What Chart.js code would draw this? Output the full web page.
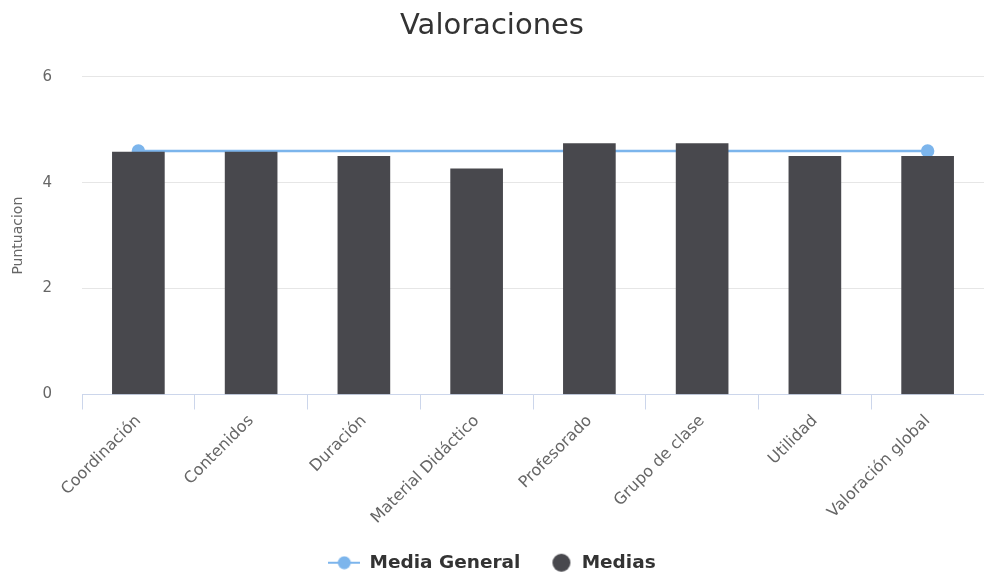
<!DOCTYPE html>
<html>
<head>
<meta charset="utf-8">
<script src="https://cdn.jsdelivr.net/npm/chart.js@4/dist/chart.umd.min.js"></script>
<style>
  body { margin: 0; background: #fff; }
  #wrap { width: 984px; height: 576px; overflow: hidden; }
</style>
</head>
<body>
<div id="wrap"><canvas id="myChart" width="984" height="576"></canvas></div>
<script>
const categories = ["Coordinación", "Contenidos", "Duración", "Material Didáctico", "Profesorado", "Grupo de clase", "Utilidad", "Valoración global"];
// the average line only has its two end points drawn (marker at first and last)
const mediaGeneral = [4.6, null, null, null, null, null, null, 4.6];
const medias = [4.58, 4.58, 4.5, 4.26, 4.74, 4.74, 4.5, 4.5];
const yTicks = [0, 2, 4, 6];

const lineBlue = "#7cb5ec";
const barGray = "#48484d";
const fontFam = "'DejaVu Sans', Verdana, sans-serif";

// legend symbols like the original (line with a dot, plain dot)
function lineIcon() {
  const c = document.createElement("canvas");
  c.width = 32; c.height = 14;
  const g = c.getContext("2d");
  g.strokeStyle = lineBlue; g.lineWidth = 2;
  g.beginPath(); g.moveTo(0, 7); g.lineTo(32, 7); g.stroke();
  g.fillStyle = lineBlue;
  g.beginPath(); g.arc(16, 7, 6.5, 0, Math.PI * 2); g.fill();
  return c;
}
function dotIcon() {
  // dot sits at the right of its box so the gap to the text is tighter
  const c = document.createElement("canvas");
  c.width = 32; c.height = 20;
  const g = c.getContext("2d");
  g.fillStyle = barGray;
  g.beginPath(); g.arc(21, 10, 9, 0, Math.PI * 2); g.fill();
  return c;
}
const icons = [lineIcon(), dotIcon()];

// no extra side padding from the axes, the plot runs to the right edge
const noPadding = () => ({ left: 0, top: 0, right: 0, bottom: 0 });

const ctx = document.getElementById("myChart").getContext("2d");
const myChart = new Chart(ctx, {
  data: {
    labels: categories,
    datasets: [
      {
        type: "line",
        label: "Media General",
        data: mediaGeneral,
        spanGaps: true,
        borderColor: lineBlue,
        backgroundColor: lineBlue,
        borderWidth: 2.5,
        pointRadius: 5.5,
        pointHoverRadius: 5.5,
        order: 2
      },
      {
        type: "bar",
        label: "Medias",
        data: medias,
        backgroundColor: barGray,
        borderWidth: 0,
        barThickness: 52,
        order: 1
      }
    ]
  },
  options: {
    responsive: false,
    animation: false,
    layout: { autoPadding: false, padding: { top: 0, right: 0, bottom: -6, left: 0 } },
    plugins: {
      title: {
        display: true,
        text: "Valoraciones",
        color: "#333333",
        font: { family: fontFam, size: 29, weight: "normal" },
        padding: { top: 9, bottom: 33 }
      },
      legend: {
        position: "bottom",
        labels: {
          color: "#333333",
          font: { family: fontFam, size: 18.5, weight: "bold" },
          usePointStyle: true,
          pointStyleWidth: 32,
          boxHeight: 14,
          padding: 20,
          sort: (a, b) => a.datasetIndex - b.datasetIndex,
          generateLabels: (chart) => chart.data.datasets.map((ds, i) => ({
            text: ds.label,
            pointStyle: icons[i],
            fillStyle: ds.backgroundColor,
            strokeStyle: ds.backgroundColor,
            lineWidth: 0,
            fontColor: "#333333",
            hidden: false,
            datasetIndex: i
          }))
        }
      },
      tooltip: { enabled: false }
    },
    scales: {
      x: {
        offset: true,
        afterFit: (axis) => {
          axis.height = 139;
          axis.paddingLeft = 0;
          axis.paddingRight = 0;
          axis.getPadding = noPadding;
        },
        grid: {
          offset: true,
          drawOnChartArea: false,
          drawTicks: true,
          tickLength: 15,
          color: "#ccd6eb"
        },
        border: { display: true, color: "#ccd6eb", width: 1 },
        ticks: {
          color: "#666666",
          font: { family: fontFam, size: 16 },
          minRotation: 45,
          maxRotation: 45,
          autoSkip: false,
          padding: 2
        }
      },
      y: {
        min: 0,
        max: 6,
        afterBuildTicks: (axis) => { axis.ticks = yTicks.map(v => ({ value: v })); },
        afterFit: (axis) => {
          axis.width = 82;
          axis.getPadding = noPadding;
        },
        grid: { color: "#e6e6e6", drawTicks: false },
        border: { display: false },
        ticks: {
          color: "#666666",
          font: { family: fontFam, size: 15 },
          padding: 30
        },
        title: {
          display: true,
          text: "Puntuacion",
          color: "#666666",
          font: { family: fontFam, size: 14 },
          padding: { top: 10, bottom: 16 }
        }
      }
    }
  }
});
</script>
</body>
</html>
